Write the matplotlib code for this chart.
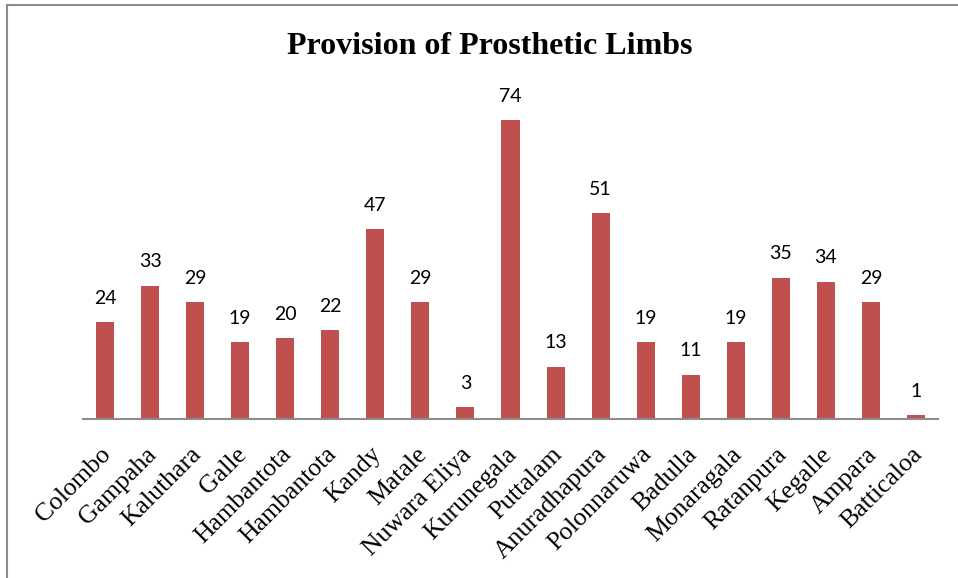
import matplotlib.pyplot as plt
from matplotlib.patches import Rectangle
from matplotlib.transforms import ScaledTranslation

districts = ["Colombo", "Gampaha", "Kaluthara", "Galle", "Hambantota", "Hambantota",
             "Kandy", "Matale", "Nuwara Eliya", "Kurunegala", "Puttalam", "Anuradhapura",
             "Polonnaruwa", "Badulla", "Monaragala", "Ratanpura", "Kegalle", "Ampara",
             "Batticaloa"]
limbs = [24, 33, 29, 19, 20, 22, 47, 29, 3, 74, 13, 51, 19, 11, 19, 35, 34, 29, 1]

W, H = 958, 578
fig = plt.figure(figsize=(W / 100, H / 100), dpi=100)
ax = fig.add_axes([82.5 / W, (H - 419) / H, 856 / W, 323 / H])

x = range(len(districts))
bars = ax.bar(x, limbs, width=0.4, color="#C0504D", zorder=2)

# value labels above each bar
for xi, v in zip(x, limbs):
    ax.annotate(str(v), (xi, v), xytext=(0, 11), textcoords="offset points",
                ha="center", va="bottom", fontsize=14, family="Lato")

ax.set_xlim(-0.5, len(districts) - 0.5)
ax.set_ylim(0, 80)
ax.set_yticks([])
ax.set_xticks(list(x))
ax.set_xticklabels(districts, rotation=45, ha="right", va="top",
                   family="Liberation Serif", fontsize=18.5)
ax.tick_params(axis="x", length=0, pad=17.5)
shift = ScaledTranslation(-5 / 100, 0, fig.dpi_scale_trans)
for lbl in ax.get_xticklabels():
    lbl.set_rotation_mode("anchor")
    lbl.set_transform(lbl.get_transform() + shift)
for s in ["top", "right", "left"]:
    ax.spines[s].set_visible(False)
ax.spines["bottom"].set_color("#8c8c8c")
ax.spines["bottom"].set_linewidth(1.5)

fig.text(490 / W, 1 - 47 / H, "Provision of Prosthetic Limbs", ha="center", va="center",
         family="Liberation Serif", fontweight="bold", fontsize=23)

# chart frame (right and bottom edges fall outside the image)
fig.add_artist(Rectangle((7 / W, -0.1), 1.2, 1.1 - 5 / H, transform=fig.transFigure,
                         fill=False, edgecolor="#8c8c8c", linewidth=1.5))

fig.savefig("out.png", dpi=100)
